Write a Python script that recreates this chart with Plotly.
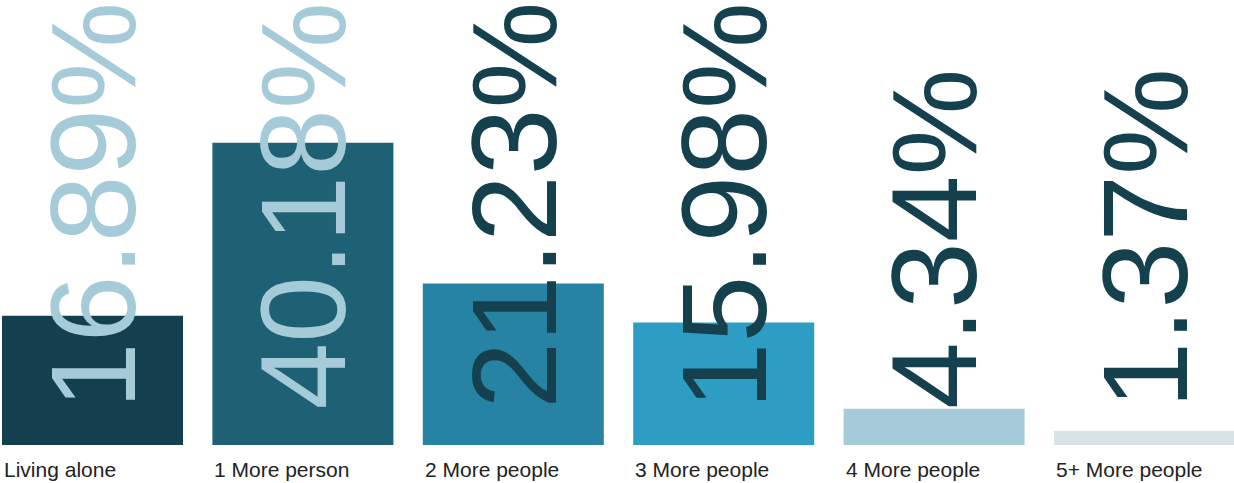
import plotly.graph_objects as go

categories = ["Living alone", "1 More person", "2 More people", "3 More people", "4 More people", "5+ More people"]
values = [16.89, 40.18, 21.23, 15.98, 4.34, 1.37]
bar_colors = ["#143F4E", "#1F6174", "#2683A3", "#2E9DC3", "#A5CBD8", "#D9E2E5"]
label_colors = ["#A5CBD8", "#A5CBD8", "#15414F", "#15414F", "#15414F", "#15414F"]

W, H = 1234, 483
plot_h = 445          # plot area height in px
zero_px = 443         # pixel row of value 0
px_per_unit = 7.42
slot = 210.4
outline = 4.0
bar_w_frac = (181 - outline) / slot
first_center = 92.5

x_idx = list(range(len(categories)))
x0 = -first_center / slot
x1 = x0 + W / slot
y0 = -(plot_h - zero_px) / px_per_unit
y1 = zero_px / px_per_unit

fig = go.Figure()
fig.add_trace(go.Bar(
    x=x_idx,
    y=values,
    marker=dict(color=bar_colors, line=dict(width=outline, color=bar_colors)),
    width=bar_w_frac,
    hoverinfo="skip",
))

font_family = "Liberation Sans, Arial, sans-serif"
annotations = []
for i, (v, c) in enumerate(zip(values, label_colors)):
    annotations.append(dict(
        x=i, y=(plot_h - 411) / plot_h, xref="x", yref="paper",
        text=f"{v:.2f}%", textangle=-90, showarrow=False,
        xanchor="center", yanchor="bottom",
        font=dict(family=font_family, size=120, color=c),
    ))
for i, cat in enumerate(categories):
    annotations.append(dict(
        x=i - 181 / slot / 2, y=0, xref="x", yref="paper",
        text=cat, showarrow=False, xanchor="left", yanchor="top",
        xshift=0, yshift=-11,
        font=dict(family=font_family, size=21, color="#222222"),
    ))

fig.update_layout(
    width=W, height=H,
    font=dict(family=font_family),
    margin=dict(l=0, r=0, t=0, b=H - plot_h, pad=0),
    paper_bgcolor="white", plot_bgcolor="white",
    showlegend=False,
    xaxis=dict(range=[x0, x1], visible=False, fixedrange=True),
    yaxis=dict(range=[y0, y1], visible=False, fixedrange=True),
    annotations=annotations,
)

fig.write_html("out.html", config={"displayModeBar": False},
               post_script="document.body.style.margin='0';")
